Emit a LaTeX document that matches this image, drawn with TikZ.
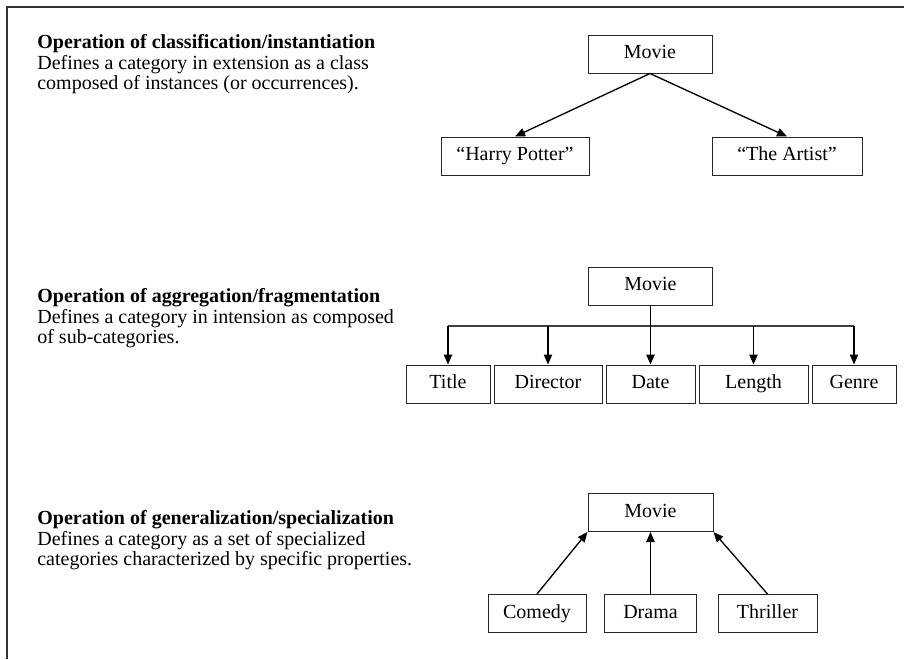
\documentclass[tikz,border=0pt]{standalone}
\usepackage{fontspec}
\setmainfont{Liberation Serif}
\usetikzlibrary{shapes,arrows.meta}
\tikzstyle{bx}=[rectangle,draw=black!85,line width=.6pt,minimum height=22.8pt,inner sep=1pt,text height=8.2pt,text depth=2.6pt,font=\fontsize{12}{14}\selectfont]
\tikzstyle{txt}=[anchor=north west,align=left,inner sep=0pt,font=\fontsize{12}{12.4}\selectfont]
\tikzstyle{ar}=[-{Triangle[length=6pt,width=5pt]},line width=.8pt]

\begin{document}
\begin{tikzpicture}[x=0.6pt,y=-0.6pt]
\useasboundingbox (0,0) rectangle (904,659);
\draw[line width=1.1pt,black!80] (7,659) -- (7,7) -- (904,7);
% texts on the left
\node[txt] (op1) at (37,34) {\textbf{Operation of classification/instantiation}\\Defines a category in extension as a class\\composed of instances (or occurrences).};
\node[txt] (op2) at (37,288) {\textbf{Operation of aggregation/fragmentation}\\Defines a category in intension as composed\\of sub-categories.};
\node[txt] (op3) at (37,510) {\textbf{Operation of generalization/specialization}\\Defines a category as a set of specialized\\categories characterized by specific properties.};
% classification
\node[bx,minimum width=74.4pt] (m1) at (650,54) {Movie};
\node[bx,minimum width=88.8pt] (hp) at (515,156) {``Harry Potter''};
\node[bx,minimum width=90pt] (ta) at (787,156) {``The Artist''};
\draw[ar] (m1.south) -- (hp.north); \draw[ar] (m1.south) -- (ta.north);
% aggregation
\node[bx,minimum width=74.4pt] (m2) at (650.5,286) {Movie};
\node[bx,minimum width=50.4pt] (title) at (448,384) {Title};
\node[bx,minimum width=64.8pt] (dir) at (548,384) {Director};
\node[bx,minimum width=53.4pt] (date) at (650.5,384) {Date};
\node[bx,minimum width=65.4pt] (len) at (753.5,384) {Length};
\node[bx,minimum width=50.4pt] (gen) at (854,384) {Genre};
\coordinate (bl) at (448,326); \coordinate (br) at (854,326);
\draw[line width=.8pt,black!75] (bl) -- (br);
\draw[ar] (m2.south) -- (date.north);
\draw[ar] (title.north |- bl) -- (title.north); \draw[ar] (dir.north |- bl) -- (dir.north);
\draw[ar] (len.north |- bl) -- (len.north); \draw[ar] (gen.north |- bl) -- (gen.north);
% generalization
\node[bx,minimum width=75pt] (m3) at (650.5,512.5) {Movie};
\node[bx,minimum width=58.8pt] (com) at (537,613.5) {Comedy};
\node[bx,minimum width=55.2pt] (dra) at (650.5,613.5) {Drama};
\node[bx,minimum width=59.4pt] (thr) at (767.5,613.5) {Thriller};
\draw[ar] (com.north) -- (m3.south west); \draw[ar] (dra.north) -- (m3.south);
\draw[ar] (thr.north) -- (m3.south east);
\end{tikzpicture}
\end{document}
